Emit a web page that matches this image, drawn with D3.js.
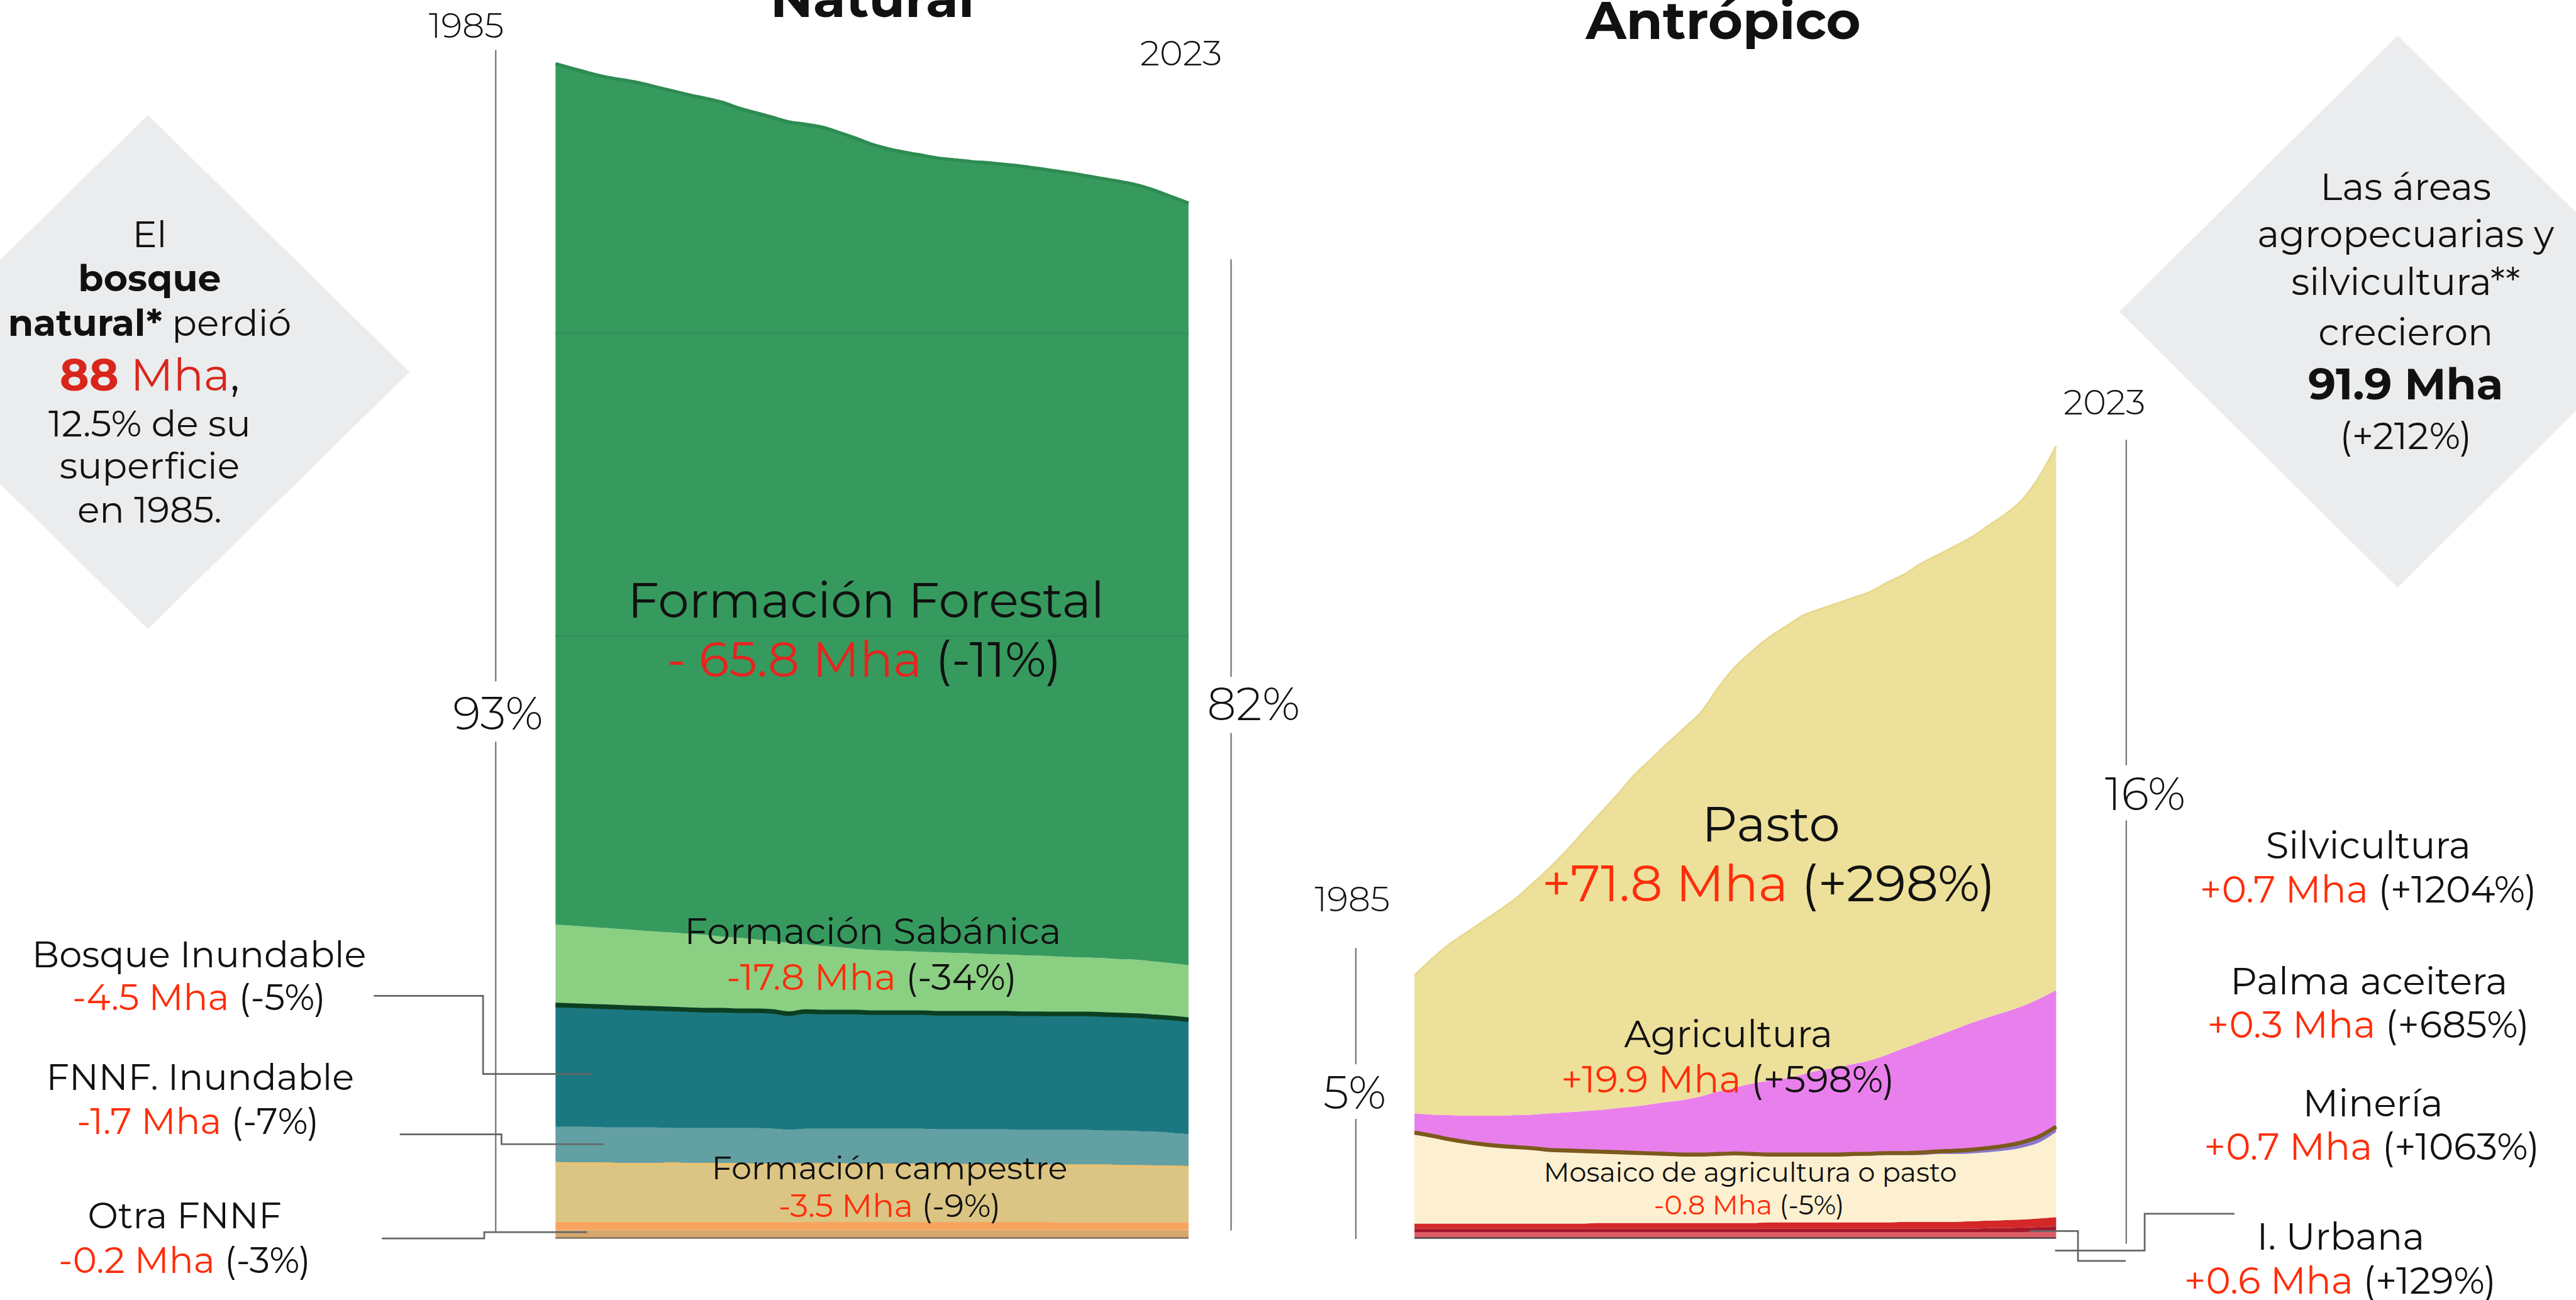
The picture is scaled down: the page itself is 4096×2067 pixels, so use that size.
<!DOCTYPE html>
<html><head><meta charset="utf-8">
<script src="https://cdn.jsdelivr.net/npm/d3@7"></script>
<style>html,body{margin:0;padding:0;background:#fff;overflow:hidden}svg{display:block}</style>
</head><body>
<script>
// ---------------- DATA (Mha) ----------------
const years = [1985,1986,1987,1988,1989,1990,1991,1992,1993,1994,1995,1996,1997,1998,1999,2000,2001,2002,2003,2004,2005,2006,2007,2008,2009,2010,2011,2012,2013,2014,2015,2016,2017,2018,2019,2020,2021,2022,2023];

// Natural
const formacionForestal = [598.8,596.4,594.0,592.0,590.8,589.6,587.6,585.6,583.6,582.0,580.4,577.2,575.2,573.2,571.2,570.4,569.6,566.8,564.0,560.4,557.6,555.6,554.0,552.4,551.6,550.8,550.4,549.6,548.8,547.6,546.4,545.2,543.6,542.0,540.8,538.8,536.4,533.2,530.0];
const formacionSabanica = [56.0,55.6,55.2,54.8,54.4,54.0,53.6,53.2,52.8,52.4,51.2,50.8,49.6,48.8,49.2,46.8,46.0,45.2,44.0,43.6,43.2,42.8,42.4,42.4,42.0,41.6,41.2,40.8,40.8,40.4,40.0,39.6,39.2,39.2,38.8,38.8,38.4,38.0,38.0];
const bosqueInundable = [84.8,84.4,84.0,84.0,83.6,83.2,82.8,82.8,82.4,82.0,82.0,81.6,81.6,81.6,80.8,81.6,81.2,81.2,81.2,80.8,80.8,80.8,80.8,80.8,80.8,80.8,80.8,80.8,80.8,80.8,80.8,80.8,80.8,80.8,80.4,80.4,80.0,80.0,79.6];
const fnnfInundable = [25.2,25.6,25.6,25.2,25.6,25.6,25.6,24.8,25.2,25.2,25.2,25.2,25.6,25.2,24.4,24.8,24.8,24.8,25.2,25.2,25.2,25.2,25.2,24.8,24.8,25.2,25.2,25.2,24.8,24.8,24.8,24.8,24.8,24.4,24.8,24.4,24.4,23.6,23.2];
const formacionCampestre = [40.8,40.4,40.4,40.4,40.0,40.0,40.0,40.4,40.0,40.0,40.0,40.0,39.6,39.6,39.6,40.0,40.0,40.0,39.6,39.6,39.6,39.6,39.6,39.6,39.6,39.2,39.2,39.2,39.2,39.2,39.2,39.2,39.2,39.2,38.8,38.8,38.4,38.4,38.0];
const otraFNNF = [5.6,5.6,5.6,5.6,5.6,5.6,5.6,5.6,5.6,5.6,5.6,5.6,5.6,5.6,5.6,5.5,5.5,5.5,5.5,5.5,5.5,5.5,5.5,5.5,5.5,5.5,5.5,5.5,5.5,5.5,5.4,5.4,5.4,5.4,5.4,5.4,5.4,5.4,5.4];
const otrosNatural = [5.6,5.6,5.6,5.6,5.6,5.6,5.6,5.6,5.6,5.6,5.6,5.6,5.6,5.6,5.6,5.6,5.6,5.6,5.6,5.6,5.6,5.6,5.6,5.6,5.6,5.6,5.6,5.6,5.6,5.6,5.6,5.6,5.6,5.6,5.6,5.6,5.6,5.6,5.6];

// Antrópico
const otrosAntropico = [1.0,1.0,1.0,1.0,1.0,1.0,1.0,1.0,1.0,1.0,1.0,1.0,1.0,1.0,1.0,1.0,1.0,1.0,1.0,1.0,1.0,1.0,1.0,1.0,1.0,1.0,1.0,1.0,1.0,1.0,1.0,1.0,1.0,1.0,1.0,1.0,1.0,1.1,1.2];
const mineria = [0.6,0.6,0.6,0.6,0.6,0.6,0.6,0.6,0.6,0.6,0.6,0.6,0.6,0.6,0.6,0.6,0.6,0.6,0.6,0.6,0.6,0.6,0.6,0.6,0.6,0.6,0.6,0.6,0.6,0.6,0.6,0.6,0.6,0.6,0.7,0.7,0.8,0.8,0.8];
const infraUrbana = [0.9,0.9,0.9,0.9,0.9,0.9,0.9,0.9,0.9,0.9,0.9,1.0,1.0,1.0,1.0,1.0,1.0,1.0,1.0,1.0,1.0,1.1,1.1,1.1,1.1,1.1,1.1,1.1,1.1,1.2,1.2,1.2,1.2,1.3,1.3,1.4,1.4,1.5,1.6];
const mosaico = [15.5,15.0,14.4,13.9,13.5,13.2,13.0,12.8,12.5,12.4,12.3,12.1,12.0,11.9,11.8,11.7,11.6,11.6,11.7,11.8,11.7,11.5,11.5,11.5,11.5,11.5,11.6,11.6,11.7,11.6,11.6,11.8,11.8,11.8,11.9,12.1,12.5,13.2,14.8];
const palmaAceitera = [0.05,0.05,0.05,0.05,0.05,0.05,0.05,0.05,0.05,0.05,0.05,0.05,0.05,0.05,0.05,0.05,0.05,0.05,0.05,0.05,0.05,0.05,0.05,0.05,0.05,0.05,0.05,0.1,0.1,0.1,0.2,0.2,0.3,0.4,0.5,0.6,0.7,0.8,0.7];
const silvicultura = [0.5,0.5,0.5,0.5,0.5,0.5,0.5,0.5,0.5,0.5,0.5,0.5,0.5,0.5,0.5,0.5,0.5,0.5,0.5,0.5,0.5,0.5,0.5,0.5,0.5,0.5,0.5,0.5,0.5,0.5,0.5,0.5,0.5,0.5,0.5,0.5,0.5,0.5,0.5];
const agricultura = [3.1,3.4,3.9,4.3,4.7,5.0,5.3,5.6,6.1,6.4,6.7,7.0,7.4,7.8,8.3,8.8,9.3,9.9,10.6,11.2,12.0,12.6,13.0,13.7,14.4,14.9,15.4,16.0,16.9,18.0,19.0,19.9,20.9,21.8,22.5,23.0,23.4,23.7,23.5];
const pasto = [24.0,27.0,29.6,31.7,33.7,35.7,37.7,40.2,42.7,45.5,48.6,51.6,54.5,57.6,60.0,62.4,64.7,66.9,70.3,73.2,75.2,77.1,78.6,79.8,80.2,80.7,81.1,81.5,82.1,82.4,83.2,83.6,84.0,84.5,85.5,86.6,88.1,90.8,94.6];

// Text labels
const titleNatural = "Natural";
const titleAntropico = "Antrópico";
const yearLabels = ["1985","2023"];
const shareLabels = ["93%","82%","5%","16%"];

// ---------------- SETUP ----------------
const W = 4480, H = 2261;
const FONT = "Montserrat, Inter, 'Open Sans', sans-serif";
const RED = "#ff2d0a", DARKRED = "#d9261c", INK = "#111";
const svg = d3.select("body").append("svg")
  .attr("width", 4096).attr("height", 2067)
  .attr("viewBox", `0 0 ${W} ${H}`)
  .style("font-family", FONT);

function text(x, y, parts, size, opts = {}) {
  const t = svg.append("text").attr("x", x).attr("y", y)
    .attr("text-anchor", opts.anchor || "middle")
    .attr("font-size", size)
    .attr("font-weight", opts.weight || 400)
    .attr("fill", INK);
  (Array.isArray(parts) ? parts : [{t: parts}]).forEach(p => {
    const s = t.append("tspan").text(p.t);
    if (p.c) s.attr("fill", p.c);
    if (p.w) s.attr("font-weight", p.w);
    if (p.s) s.attr("font-size", p.s);
  });
  return t;
}
function poly(points, stroke, sw) {
  svg.append("path").attr("d", d3.line()(points)).attr("fill", "none")
    .attr("stroke", stroke).attr("stroke-width", sw);
}

// Diamonds
svg.append("polygon").attr("points", "257,200 712,647 257,1094 -198,647").attr("fill", "#ebecee");
svg.append("polygon").attr("points", "4170,62 4654,542 4170,1022 3686,542").attr("fill", "#ebecee");

// ---------------- NATURAL ----------------
const natKeys = ["otrosNatural","otraFNNF","formacionCampestre","fnnfInundable","bosqueInundable","formacionSabanica","formacionForestal"];
const natSrc = {otrosNatural, otraFNNF, formacionCampestre, fnnfInundable, bosqueInundable, formacionSabanica, formacionForestal};
const natColors = {otrosNatural:"#d7a86e", otraFNNF:"#f8a45e", formacionCampestre:"#dbc584", fnnfInundable:"#63a0a3", bosqueInundable:"#1c7880", formacionSabanica:"#8bcf83", formacionForestal:"#369a5e"};
const natRows = years.map((yr, i) => { const r = {year: yr}; natKeys.forEach(k => r[k] = natSrc[k][i]); return r; });
const natStack = d3.stack().keys(natKeys)(natRows);
const xN = d3.scaleLinear().domain([1985, 2023]).range([966, 2067]);
const yN = d3.scaleLinear().domain([0, 800]).range([2153, 153]);

const areaN = d3.area().x(d => xN(d.data.year)).y0(d => yN(d[0])).y1(d => yN(d[1])).curve(d3.curveMonotoneX);
const lineTopN = d3.line().x(d => xN(d.data.year)).y(d => yN(d[1])).curve(d3.curveMonotoneX);

const gN = svg.append("g");
gN.selectAll("path.layer").data(natStack).join("path").attr("class", "layer")
  .attr("d", areaN).attr("fill", d => natColors[d.key]);
const byKeyN = k => natStack.find(s => s.key === k);
gN.append("path").attr("d", lineTopN(byKeyN("formacionCampestre"))).attr("fill","none").attr("stroke","#e9c274").attr("stroke-width",5);
gN.append("path").attr("d", lineTopN(byKeyN("bosqueInundable"))).attr("fill","none").attr("stroke","#0b3f22").attr("stroke-width",8);
gN.append("path").attr("d", lineTopN(byKeyN("formacionForestal"))).attr("fill","none").attr("stroke","#2e8b51").attr("stroke-width",6);
[580, 1106].forEach(yy => gN.append("line").attr("x1", 966).attr("x2", 2067).attr("y1", yy).attr("y2", yy).attr("stroke", "#32925a").attr("stroke-width", 4));
gN.append("line").attr("x1", 966).attr("x2", 2067).attr("y1", yN(0)).attr("y2", yN(0)).attr("stroke", "#8a7862").attr("stroke-width", 3);

// ---------------- ANTRÓPICO ----------------
const antKeys = ["otrosAntropico","mineria","infraUrbana","mosaico","palmaAceitera","silvicultura","agricultura","pasto"];
const antSrc = {otrosAntropico, mineria, infraUrbana, mosaico, palmaAceitera, silvicultura, agricultura, pasto};
const antColors = {otrosAntropico:"#de5c66", mineria:"#a3192b", infraUrbana:"#d42828", mosaico:"#fdf0d0", palmaAceitera:"#8b78cc", silvicultura:"#7b5a1c", agricultura:"#e97fec", pasto:"#ede09a"};
const antRows = years.map((yr, i) => { const r = {year: yr}; antKeys.forEach(k => r[k] = antSrc[k][i]); return r; });
const antStack = d3.stack().keys(antKeys)(antRows);
const xA = d3.scaleLinear().domain([1985, 2023]).range([2460, 3576]);
const yA = d3.scaleLinear().domain([0, 100]).range([2153, 1153]);
const areaA = d3.area().x(d => xA(d.data.year)).y0(d => yA(d[0])).y1(d => yA(d[1])).curve(d3.curveMonotoneX);
const lineTopA = d3.line().x(d => xA(d.data.year)).y(d => yA(d[1])).curve(d3.curveMonotoneX);
const lineMidA = d3.line().x(d => xA(d.data.year)).y(d => yA((d[0] + d[1]) / 2)).curve(d3.curveMonotoneX);
const gA = svg.append("g");
gA.selectAll("path.layer").data(antStack).join("path").attr("class", "layer")
  .attr("d", areaA).attr("fill", d => antColors[d.key]);
const byKeyA = k => antStack.find(s => s.key === k);
gA.append("path").attr("d", lineMidA(byKeyA("silvicultura"))).attr("fill","none").attr("stroke","#7b5a1c").attr("stroke-width",7);
gA.append("path").attr("d", lineTopA(byKeyA("pasto"))).attr("fill","none").attr("stroke","#e6d78c").attr("stroke-width",3);
gA.append("line").attr("x1", 2460).attr("x2", 3576).attr("y1", yA(0)).attr("y2", yA(0)).attr("stroke", "#5b4a4e").attr("stroke-width", 3);

// ---------------- GUIDE LINES ----------------
const GL = "#777";
poly([[862, 87], [862, 1185]], GL, 2.5); poly([[862, 1290], [862, 2143]], GL, 2.5);
poly([[2141, 451], [2141, 1177]], GL, 2.5); poly([[2141, 1275], [2141, 2140]], GL, 2.5);
poly([[2358, 1649], [2358, 1851]], GL, 2.5); poly([[2358, 1946], [2358, 2155]], GL, 2.5);
poly([[3698, 765], [3698, 1331]], GL, 2.5); poly([[3698, 1427], [3698, 2163]], GL, 2.5);

const CL = "#666";
poly([[650,1732],[840,1732],[840,1868],[1029,1868]], CL, 3);
poly([[695,1973],[872,1973],[872,1990],[1050,1990]], CL, 3);
poly([[664,2154],[842,2154],[842,2143],[1021,2143]], CL, 3);
poly([[3531,2141],[3614,2141],[3614,2193],[3697,2193]], CL, 3);
poly([[3574,2175],[3730,2175],[3730,2111],[3886,2111]], CL, 3);

// ---------------- TEXT ----------------
text(1517, 30, titleNatural, 92, {weight: 700});
text(2997, 68, titleAntropico, 92, {weight: 700});

text(811, 66, yearLabels[0], 61, {weight: 300});
text(2054, 114, yearLabels[1], 61, {weight: 300});
text(2352, 1585, yearLabels[0], 61, {weight: 300});
text(3660, 721, yearLabels[1], 61, {weight: 300});

text(866, 1269, shareLabels[0], 80, {weight: 300});
text(2180, 1253, shareLabels[1], 80, {weight: 300});
text(2356, 1928, shareLabels[2], 80, {weight: 300});
text(3731, 1409, shareLabels[3], 80, {weight: 300});

// Left diamond
text(260, 430, "El", 64);
text(260, 507, [{t: "bosque", w: 700}], 64);
text(260, 584, [{t: "natural*", w: 700}, {t: " perdió"}], 64);
text(260, 679, [{t: "88", w: 700, c: DARKRED}, {t: " Mha", c: DARKRED}, {t: ","}], 78);
text(260, 759, "12.5% de su", 64);
text(260, 832, "superficie", 64);
text(260, 909, "en 1985.", 64);

// Right diamond
text(4184, 348, "Las áreas", 65);
text(4184, 430, "agropecuarias y", 65);
text(4184, 513, "silvicultura**", 65);
text(4184, 600, "crecieron", 65);
text(4184, 695, [{t: "91.9 Mha", w: 700}], 76);
text(4184, 781, "(+212%)", 65);

// Natural side labels
const val = (a, b) => [{t: a, c: RED}, {t: " " + b}];
text(346, 1682, "Bosque Inundable", 63);
text(346, 1757, val("-4.5 Mha", "(-5%)"), 63);
text(348, 1896, "FNNF. Inundable", 63);
text(344, 1972, val("-1.7 Mha", "(-7%)"), 63);
text(321, 2136, "Otra FNNF", 63);
text(321, 2214, val("-0.2 Mha", "(-3%)"), 63);

// Natural in-chart labels
text(1506, 1074, "Formación Forestal", 86);
text(1503, 1177, [{t: "- 65.8 Mha", c: "#e8231f"}, {t: " (-11%)"}], 86);
text(1518, 1642, "Formación Sabánica", 64);
text(1516, 1722, val("-17.8 Mha", "(-34%)"), 64);
text(1547, 2051, "Formación campestre", 56);
text(1547, 2117, val("-3.5 Mha", "(-9%)"), 56);

// Antrópico in-chart labels
text(3080, 1464, "Pasto", 86);
text(3076, 1568, val("+71.8 Mha", "(+298%)"), 88);
text(3006, 1821, "Agricultura", 65);
text(3005, 1900, val("+19.9 Mha", "(+598%)"), 65);
text(3044, 2055, "Mosaico de agricultura o pasto", 47);
text(3042, 2112, val("-0.8 Mha", "(-5%)"), 47);

// Right labels
text(4119, 1493, "Silvicultura", 65);
text(4119, 1570, val("+0.7 Mha", "(+1204%)"), 65);
text(4120, 1729, "Palma aceitera", 65);
text(4119, 1805, val("+0.3 Mha", "(+685%)"), 65);
text(4127, 1942, "Minería", 65);
text(4125, 2017, val("+0.7 Mha", "(+1063%)"), 65);
text(4071, 2173, "I. Urbana", 65);
text(4070, 2250, val("+0.6 Mha", "(+129%)"), 65);
</script>
</body></html>
